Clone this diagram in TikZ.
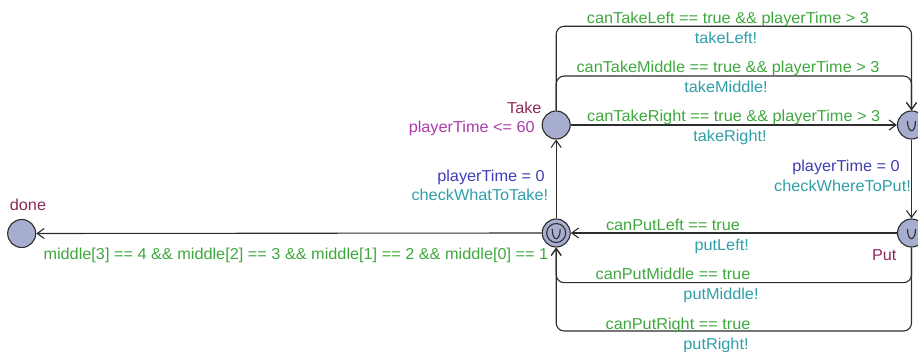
\documentclass[tikz,border=0pt]{standalone}
\usepackage{fontspec}
\setmainfont{Liberation Sans}[FakeStretch=1.03]
\usetikzlibrary{arrows.meta}

\definecolor{guardc}{RGB}{62,168,62}
\definecolor{syncc}{RGB}{48,158,168}
\definecolor{assignc}{RGB}{62,62,182}
\definecolor{invc}{RGB}{172,58,172}
\definecolor{namec}{RGB}{142,42,92}
\definecolor{locfill}{RGB}{166,173,206}
\definecolor{edgec}{RGB}{45,45,45}

\tikzset{
  loc/.style={circle, draw=edgec, line width=1.1pt, fill=locfill,
    minimum size=28pt, inner sep=0pt},
  edge/.style={draw=edgec, line width=1.1pt,
    -{Straight Barb[length=7pt,width=10pt,line width=1.1pt]}},
  lbl/.style={inner sep=0pt, anchor=base, font=\fontsize{15.8pt}{19pt}\selectfont},
  guard/.style={lbl, text=guardc},
  sync/.style={lbl, text=syncc},
  assign/.style={lbl, text=assignc},
  inv/.style={lbl, text=invc},
  lname/.style={lbl, text=namec},
  urgmark/.style={draw=edgec, line width=1.1pt},
}

\begin{document}
\begin{tikzpicture}[x=1pt, y=-1pt]
\useasboundingbox (0,0) rectangle (918,352);

% locations
\node[loc] (done) at (21.7,233.5) {};
\node[loc] (init) at (556.2,233) {};
\node[loc] (take) at (556.2,125) {};
\node[loc] (pick) at (911.5,125) {};
\node[loc] (put)  at (911.5,233) {};

% initial location ring and urgent marks
\draw[urgmark] (init) circle (9.5pt);
\foreach \n in {init,pick,put}
  \draw[urgmark] ([shift={(-4,-4)}]\n.center) .. controls +(0,13) and +(0,13) .. ([shift={(4,-4)}]\n.center);

% location names and invariant
\node[lname] at (28,210.7) {done};
\node[lname, anchor=base east] at (541.7,113.3) {Take};
\node[inv, anchor=base east] at (535,132.7) {playerTime <= 60};
\node[lname, anchor=base east] at (896.7,260.7) {Put};

% helper heights for the routed edges
\coordinate (yTakeL) at (0,26.3);
\coordinate (yTakeM) at (0,76);
\coordinate (yPutM) at (0,282.7);
\coordinate (yPutR) at (0,331);

% take edges
\draw[edge, rounded corners=8pt] (take.north) -- (take.north |- yTakeL) -- (pick.north |- yTakeL) -- (pick.north);
\draw[edge, rounded corners=8pt] (take.north) -- (take.north |- yTakeM) -- (pick.north |- yTakeM) -- (pick.north);
\draw[edge] (take.east) -- (pick.west);

\node[guard] at (728,23.5) {canTakeLeft == true \&\& playerTime > 3};
\node[sync]  at (726,43.3) {takeLeft!};
\node[guard] at (728,72.7) {canTakeMiddle == true \&\& playerTime > 3};
\node[sync]  at (726,92.7) {takeMiddle!};
\node[guard] at (733.7,121.7) {canTakeRight == true \&\& playerTime > 3};
\node[sync]  at (730,141.7) {takeRight!};

% pick -> put
\draw[edge] (pick.south) -- (put.north);
\node[assign, anchor=base east] at (900,171.7) {playerTime = 0};
\node[sync, anchor=base east] at (911,191.7) {checkWhereToPut!};

% put edges
\draw[edge] (put.west) -- (init.east);
\draw[edge, rounded corners=8pt] (put.south) -- (put.south |- yPutM) -- (init.south |- yPutM) -- (init.south);
\draw[edge, rounded corners=8pt] (put.south) -- (put.south |- yPutR) -- (init.south |- yPutR) -- (init.south);

\node[guard] at (673,231) {canPutLeft == true};
\node[sync]  at (721.7,251) {putLeft!};
\node[guard] at (673,280) {canPutMiddle == true};
\node[sync]  at (721,299.3) {putMiddle!};
\node[guard] at (678,329.3) {canPutRight == true};
\node[sync]  at (716,349.3) {putRight!};

% init -> take
\draw[edge] (init.north) -- (take.south);
\node[assign, anchor=base east] at (545,181.7) {playerTime = 0};
\node[sync, anchor=base east] at (548.3,200.7) {checkWhatToTake!};

% init -> done
\draw[edge] (init.west) -- (done.east);
\node[guard, anchor=base west] at (43.3,259.5) {middle[3] == 4 \&\& middle[2] == 3 \&\& middle[1] == 2 \&\& middle[0] == 1};
\end{tikzpicture}
\end{document}
